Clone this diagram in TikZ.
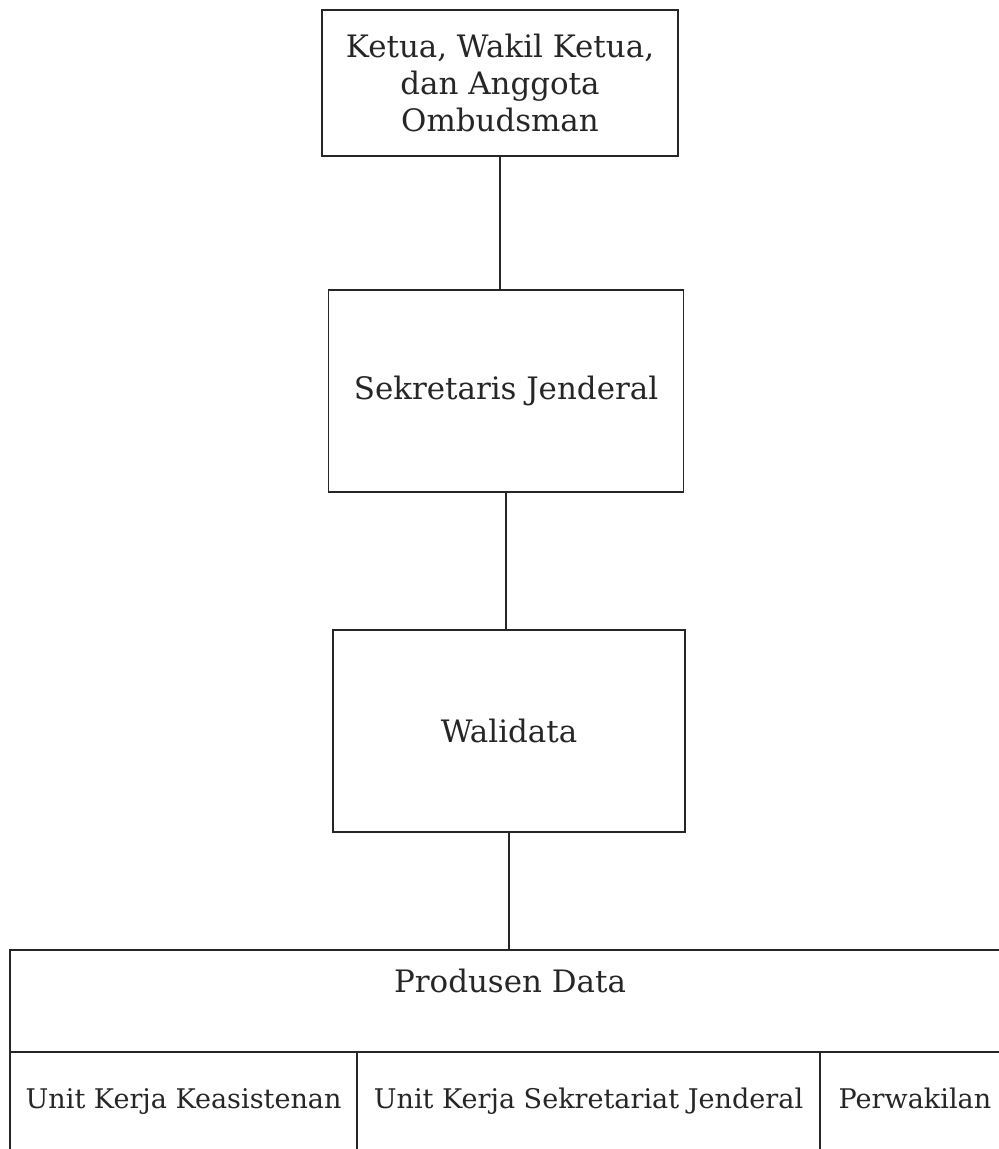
\documentclass[tikz,border=0pt]{standalone}
\usepackage{fontspec}
\setmainfont{DejaVu Serif}
\usepackage{tikz}
\usetikzlibrary{positioning}

\begin{document}
\begin{tikzpicture}[
  x=0.02cm, y=-0.02cm,
  font=\fontsize{17.6}{21}\selectfont,
  line width=0.8pt,
  orgbox/.style={draw=black!85,text=black!85,align=center,inner sep=0pt,outer sep=0pt},
  cell/.style={orgbox,font=\fontsize{15.4}{18}\selectfont,minimum height=2.36cm,text height=0.4cm,text depth=0.5cm},
  link/.style={draw=black!85,line width=0.8pt}
]
\useasboundingbox (0,0) rectangle (998,1149);
\node[orgbox,minimum width=7.12cm,minimum height=2.92cm] (ketua) at (500,83) {Ketua, Wakil Ketua,\\dan Anggota\\Ombudsman};
\node[orgbox,minimum width=7.1cm,minimum height=4.04cm] (sekjen) at (506,391) {Sekretaris Jenderal};
\node[orgbox,minimum width=7.04cm,minimum height=4.04cm] (wali) at (509,731) {Walidata};
\node[orgbox,minimum width=20cm,minimum height=2.04cm,text height=0.4cm,text depth=0.76cm] (produsen) at (510,1001) {Produsen Data};
\node[cell,minimum width=6.94cm,anchor=north west] (keas) at (produsen.south west) {Unit Kerja Keasistenan};
\node[cell,minimum width=9.26cm,right=0pt of keas] (sekr) {Unit Kerja Sekretariat Jenderal};
\node[cell,minimum width=3.8cm,right=0pt of sekr] (perw) {Perwakilan};
\draw[link] (ketua.south) -- (ketua.south |- sekjen.north);
\draw[link] (sekjen.south) -- (sekjen.south |- wali.north);
\draw[link] (wali.south) -- (wali.south |- produsen.north);
\end{tikzpicture}
\end{document}
